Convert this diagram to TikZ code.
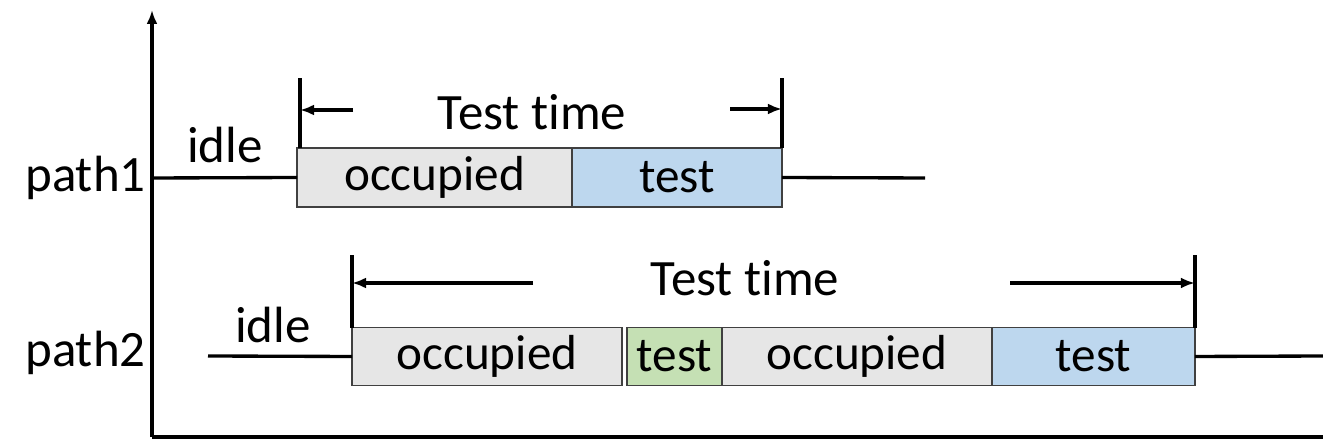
\documentclass[tikz,border=0pt]{standalone}
\usepackage{fontspec}
\setmainfont[Ligatures=NoCommon]{Carlito}
\usetikzlibrary{positioning,arrows.meta}
\definecolor{occgray}{HTML}{E6E6E6}
\definecolor{testblue}{HTML}{BDD7EE}
\definecolor{testgreen}{HTML}{C5E0B4}
\definecolor{boxline}{HTML}{404040}
\tikzset{
  slot/.style={draw=boxline, line width=0.8pt, minimum height=1.15cm, inner sep=0pt, outer sep=0pt, font=\fontsize{28}{30}\selectfont},
  lbl/.style={font=\fontsize{29}{32}\selectfont, inner sep=0pt},
  wire/.style={line width=1.9pt},
  dimarrow/.style={line width=1.9pt, -{Latex[length=0.28cm, width=0.22cm]}},
}
\begin{document}
\begin{tikzpicture}[x=0.02cm, y=0.02cm]
		\useasboundingbox (0,0) rectangle (1323,446);
		
		% Axes
		\coordinate (origin) at (152,9);
		\coordinate (ytop) at (152,436);
		\coordinate (xend) at (1323,9);
		\draw[dimarrow] (origin) -- (ytop);
		\draw[wire] (origin) -- (xend);
		
		% path1
		\node[lbl, anchor=east] (p1) at (146,268) {path1};
		\node[slot, fill=occgray, minimum width=5.5cm, minimum height=1.18cm] (occ1) at (434.5,268.5) {occupied};
		\node[slot, fill=testblue, minimum width=4.2cm, minimum height=1.18cm, right=0pt of occ1] (test1) {test};
		\node[lbl] (idle1) at (225,301) {idle};
		\coordinate (p1in) at (152,268);
		\coordinate (p1out) at (925,268);
		\draw[wire] (p1in) -- (occ1.west);
		\draw[wire] (test1.east) -- (p1out);
		
		% Test time 1
		\coordinate (t1l) at ([xshift=0.06cm]occ1.north west |- 0,368);
		\coordinate (t1r) at (test1.north east |- 0,368);
		\draw[wire] ([xshift=0.06cm]occ1.north west) -- (t1l);
		\draw[wire] (test1.north east) -- (t1r);
		\node[lbl] (tt1) at (532,334) {Test time};
		\coordinate (a1l) at (353,336);
		\coordinate (a1r) at (730,337);
		\draw[dimarrow] (a1l) -- (t1l |- a1l);
		\draw[dimarrow] (a1r) -- (t1r |- a1r);
		
		% path2
		\node[lbl, anchor=east] (p2) at (146,93) {path2};
		\node[slot, fill=occgray, minimum width=5.4cm] (occ2a) at (487,89.5) {occupied};
		\node[slot, fill=testgreen, minimum width=1.9cm, right=0.1cm of occ2a] (test2a) {test};
		\node[slot, fill=occgray, minimum width=5.4cm, right=0pt of test2a] (occ2b) {occupied};
		\node[slot, fill=testblue, minimum width=4.06cm, right=0pt of occ2b] (test2b) {test};
		\node[lbl] (idle2) at (273,121) {idle};
		\coordinate (p2in) at (208,90);
		\coordinate (p2out) at (1323,90);
		\draw[wire] (p2in) -- (occ2a.west);
		\draw[wire] (test2b.east) -- (p2out);
		
		% Test time 2
		\coordinate (t2l) at (occ2a.north west |- 0,191);
		\coordinate (t2r) at (test2b.north east |- 0,191);
		\draw[wire] (occ2a.north west) -- (t2l);
		\draw[wire] (test2b.north east) -- (t2r);
		\node[lbl] (tt2) at (745,168) {Test time};
		\coordinate (a2l) at (533,163);
		\coordinate (a2r) at (1010,163);
		\draw[dimarrow] (a2l) -- (t2l |- a2l);
		\draw[dimarrow] (a2r) -- (t2r |- a2r);
		
	\end{tikzpicture}
\end{document}
